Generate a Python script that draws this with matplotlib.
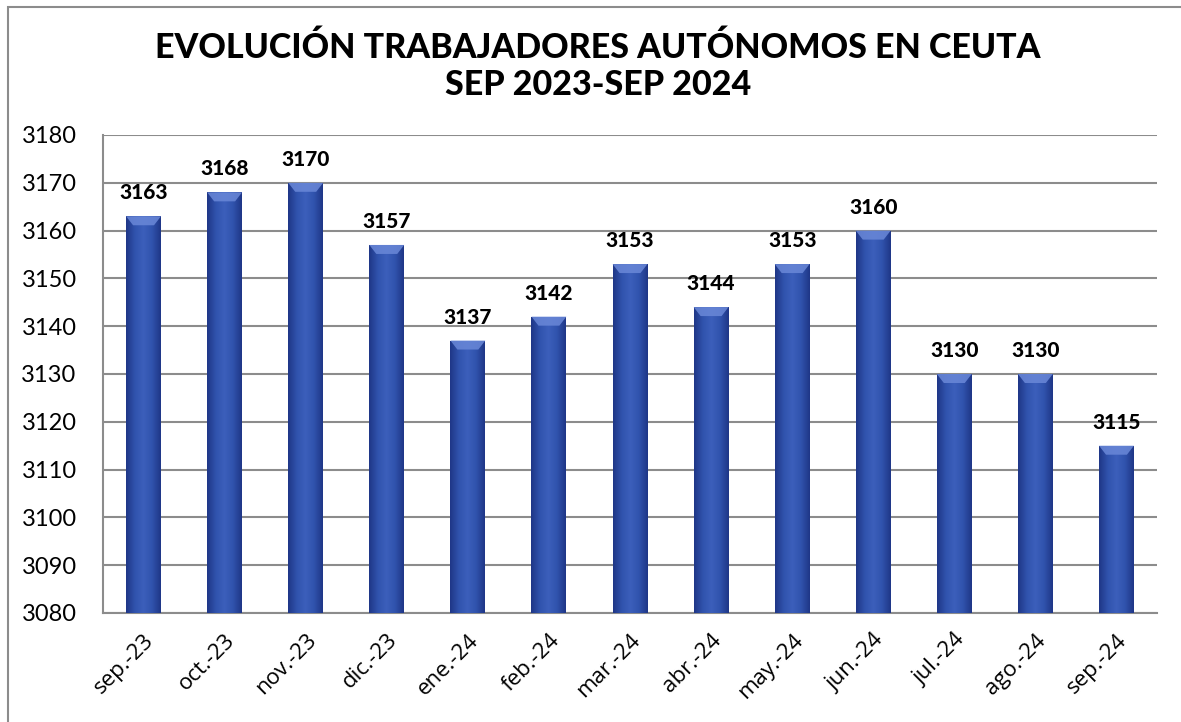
import numpy as np
import matplotlib
matplotlib.use("Agg")
import matplotlib.pyplot as plt
from matplotlib.colors import LinearSegmentedColormap
from matplotlib.patches import Rectangle, Polygon

months = ["sep.-23", "oct.-23", "nov.-23", "dic.-23", "ene.-24", "feb.-24", "mar.-24",
          "abr.-24", "may.-24", "jun.-24", "jul.-24", "ago.-24", "sep.-24"]
autonomos = [3163, 3168, 3170, 3157, 3137, 3142, 3153, 3144, 3153, 3160, 3130, 3130, 3115]
yticks = list(range(3080, 3181, 10))

title = "EVOLUCIÓN TRABAJADORES AUTÓNOMOS EN CEUTA\nSEP 2023-SEP 2024"

W, H = 1181, 722
fig = plt.figure(figsize=(W / 100, H / 100), dpi=100)
ax = fig.add_axes([103 / W, 1 - 613 / H, (1157 - 103) / W, (613 - 135) / H])

# outer chart border (only top and left visible in the crop)
fig.add_artist(Rectangle((8 / W, -0.05), 1.1, 1 - 7 / H + 0.05, transform=fig.transFigure,
                         fill=False, edgecolor="#8c8c8c", linewidth=1.5))

x = np.arange(len(months))
bars = ax.bar(x, np.array(autonomos) - yticks[0], bottom=yticks[0], width=0.43,
              color="#2d4ea6", zorder=2)

ax.set_ylim(yticks[0], yticks[-1])
ax.set_xlim(-0.5, len(months) - 0.5)

cmap = LinearSegmentedColormap.from_list("cyl", ["#1f3787", "#3053ad", "#3c5fbb", "#3053ad", "#1f3787"])
grad = np.linspace(0, 1, 64).reshape(1, -1)
px_y = (yticks[-1] - yticks[0]) / (613 - 135)
for b in bars:
    x0, w = b.get_x(), b.get_width()
    y0, h = b.get_y(), b.get_height()
    im = ax.imshow(grad, extent=[x0, x0 + w, y0, y0 + h], aspect="auto", cmap=cmap, zorder=3)
    im.set_clip_path(b)
    bev = 9 * px_y
    ax.add_patch(Polygon([[x0, y0 + h], [x0 + w, y0 + h], [x0 + w * 0.8, y0 + h - bev],
                          [x0 + w * 0.2, y0 + h - bev]], closed=True,
                         facecolor="#6a88d8", edgecolor="none", alpha=0.85, zorder=4))
    ax.text(x0 + w / 2, y0 + h + 14 * px_y, f"{int(y0 + h)}", ha="center", va="bottom",
            fontsize=15, fontweight="black", family="Lato", zorder=5)

ax.set_xticks(x)
ax.set_xticklabels(months, rotation=45, ha="right", rotation_mode="anchor",
                   fontsize=16, family="Open Sans")
ax.set_yticks(yticks)
ax.set_yticklabels([str(v) for v in yticks], fontsize=17, family="Lato")
ax.tick_params(axis="both", length=0)
ax.tick_params(axis="y", pad=19)
ax.tick_params(axis="x", pad=12)

ax.grid(axis="y", color="#8c8c8c", linewidth=1.5, zorder=1)
ax.set_axisbelow(True)
for s in ["top", "right"]:
    ax.spines[s].set_visible(False)
for s in ["left", "bottom"]:
    ax.spines[s].set_color("#8c8c8c")
    ax.spines[s].set_linewidth(1.5)

fig.text(598 / W, 1 - 66 / H, title, ha="center", va="center", fontsize=24.5,
         fontweight="black", family="Lato", linespacing=1.2)

fig.savefig("out.png", dpi=100)
